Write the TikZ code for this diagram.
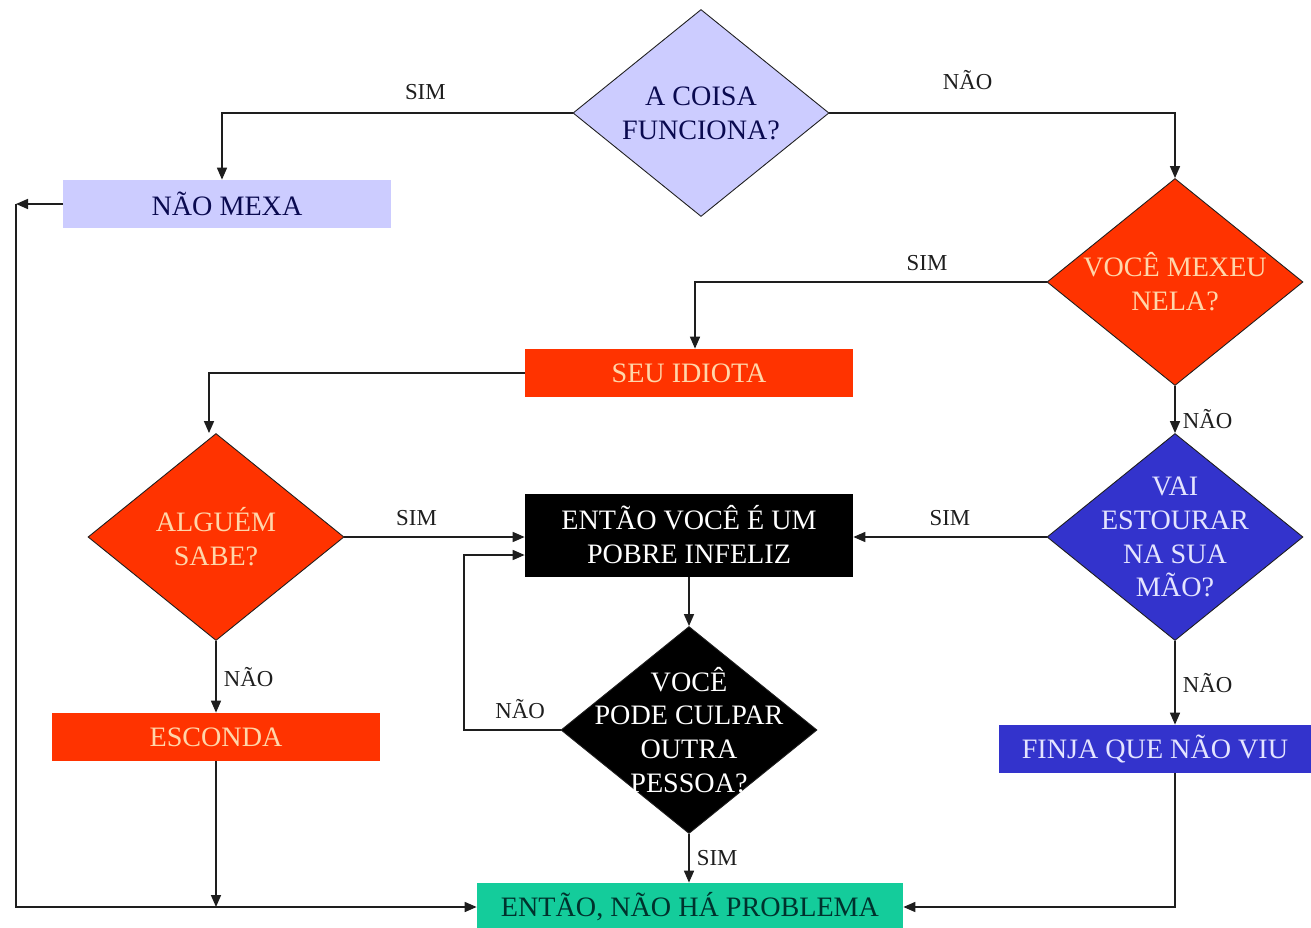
\documentclass[tikz,border=0pt]{standalone}
\usepackage{fontspec}
\setmainfont{Liberation Serif}
\usetikzlibrary{arrows.meta,positioning,shapes.geometric,calc}
\definecolor{fcLav}  {RGB}{204,204,255}
\definecolor{fcRed}  {RGB}{255, 51,  0}
\definecolor{fcBlue} {RGB}{ 51, 51,204}
\definecolor{fcTeal} {RGB}{ 20,204,155}
\definecolor{fcNavy} {RGB}{ 10, 10, 80}
\definecolor{fcCream}{RGB}{255,214,170}
\definecolor{fcPale} {RGB}{228,228,255}
\definecolor{fcInk}  {RGB}{  0, 50, 45}
\definecolor{fcLine} {RGB}{ 30, 30, 30}

\begin{document}
\begin{tikzpicture}[
    x=0.2mm,y=-0.2mm,
    every node/.style={font=\fontsize{16}{19.3}\selectfont,align=center},
    arr/.style={-{Triangle[length=2.4mm,width=2mm]},line width=0.9pt,fcLine},
    lbl/.style={font=\fontsize{13}{15}\selectfont,color=fcLine,inner sep=1pt},
    dia/.style={diamond,draw=fcLine,line width=0.5pt,inner sep=0pt,
                minimum width=51.2mm,minimum height=41.4mm},
    box/.style={rectangle,inner sep=0pt,minimum height=9.6mm}
  ]
  \useasboundingbox (0,0) rectangle (1311,928);
  % Decisions
  \node[dia,fill=fcLav,label={[text=fcNavy]center:A COISA\\FUNCIONA?}]
    (coisa) at (701,113) {};
  \node[dia,fill=fcRed,label={[text=fcCream]center:VOCÊ MEXEU\\NELA?}]
    (mexeu) at (1175,282) {};
  \node[dia,fill=fcRed,label={[text=fcCream]center:ALGUÉM\\SABE?}]
    (alguem) at (216,537) {};
  \node[dia,fill=fcBlue,label={[text=fcPale]center:VAI\\ESTOURAR\\NA SUA\\MÃO?}]
    (estourar) at (1175,537) {};
  \node[dia,fill=black,label={[text=white]center:VOCÊ\\PODE CULPAR\\OUTRA\\PESSOA?}]
    (culpar) at (689,730) {};
  % Boxes
  \node[box,fill=fcLav,text=fcNavy,minimum width=65.4mm]
    (naomexa) at (227,204) {NÃO MEXA};
  \node[box,fill=fcRed,text=fcCream,minimum width=65.6mm]
    (idiota) at (689,373) {SEU IDIOTA};
  \node[box,fill=black,text=white,minimum width=65.6mm,minimum height=16.6mm]
    (infeliz) at (689,535) {ENTÃO VOCÊ É UM\\POBRE INFELIZ};
  \node[box,fill=fcRed,text=fcCream,minimum width=65.6mm]
    (esconda) at (216,737) {ESCONDA};
  \node[box,fill=fcBlue,text=fcPale,minimum width=62.4mm]
    (finja) at (1155,749) {FINJA QUE NÃO VIU};
  \node[box,fill=fcTeal,text=fcInk,minimum width=85.2mm]
    (problema) at (690,907) {ENTÃO, NÃO HÁ PROBLEMA};
  \coordinate (lcorner) at (16,204);
  \coordinate (loop) at (464,555);
  % Arrows
  \draw[arr] (coisa.west) -| node[lbl,pos=0.21,above=6pt]{SIM} ([xshift=-1mm]naomexa.north);
  \draw[arr] (coisa.east) -| node[lbl,pos=0.2,above=12pt]{NÃO} (mexeu.north);
  \draw[arr] (mexeu.west) -| node[lbl,pos=0.17,above=5pt]{SIM} ([xshift=1.2mm]idiota.north);
  \draw[arr] (mexeu.south) -- node[lbl,pos=0.7,right=3pt]{NÃO} (estourar.north);
  \draw[arr] (idiota.west) -| ([xshift=-1.4mm]alguem.north);
  \draw[arr] (alguem.east) -- node[lbl,pos=0.4,above=5pt]{SIM} (alguem.east -| infeliz.west);
  \draw[arr] (estourar.west) -- node[lbl,above=5pt]{SIM} (estourar.west -| infeliz.east);
  \draw[arr] (infeliz.south) -- (culpar.north);
  \draw[arr] (culpar.west) -| node[lbl,pos=0.21,above=5pt]{NÃO} (loop) -- (loop -| infeliz.west);
  \draw[arr] (alguem.south) -- node[lbl,right=3pt]{NÃO} (esconda.north);
  \draw[arr] (culpar.south) -- node[lbl,right=3pt]{SIM} (culpar.south |- problema.north);
  \draw[arr] (estourar.south) -- node[lbl,right=3pt]{NÃO} (estourar.south |- finja.north);
  \draw[arr] (esconda.south) -- (esconda.south |- problema.west);
  \draw[arr] (naomexa.west) -- (lcorner);
  \draw[arr] (lcorner) |- (problema.west);
  \draw[arr] (finja.south -| estourar.south) |- (problema.east);
\end{tikzpicture}
\end{document}
